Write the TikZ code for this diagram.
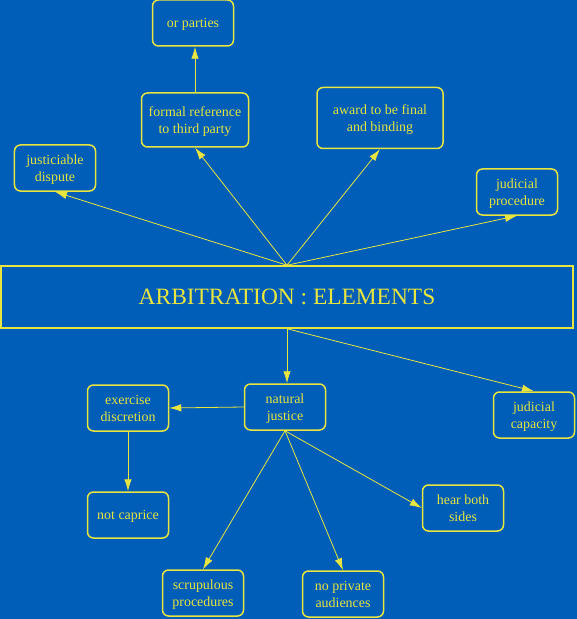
\documentclass[tikz,border=0pt]{standalone}
\usepackage{fontspec}
\setmainfont{Liberation Serif}
\usetikzlibrary{arrows.meta}
\definecolor{bgblue}{RGB}{0,94,184}
\definecolor{ayellow}{RGB}{232,228,64}
\tikzset{
    elem/.style={draw=ayellow, line width=1.5bp, rounded corners=6bp, text=ayellow, align=center,
        minimum width=81bp, minimum height=46bp, inner sep=2bp, text depth=-2.5bp,
        font=\fontsize{14}{17}\selectfont},
    link/.style={ayellow, line width=0.8bp, -{Latex[length=12bp,width=7.5bp]}},
}

\begin{document}
\begin{tikzpicture}[x=1bp, y=-1bp]
    % Sfondo
    \fill[bgblue] (0,0) rectangle (577,619);
    \useasboundingbox (0,0) rectangle (577,619);

    % Titolo
    \node[draw=ayellow, line width=1.5bp, text=ayellow, minimum width=572bp, minimum height=62bp,
        font=\fontsize{23.5}{28}\selectfont] (arb) at (287,297) {ARBITRATION : ELEMENTS};

    % Elementi sopra
    \node[elem] (dispute) at (55,168) {justiciable\\dispute};
    \node[elem, minimum width=107bp, minimum height=54bp] (third) at (195,120) {formal reference\\to third party};
    \node[elem] (parties) at (193,23) {or parties};
    \node[elem, minimum width=126bp, minimum height=61bp] (award) at (380,118) {award to be final\\and binding};
    \node[elem] (procedure) at (517,192) {judicial\\procedure};

    % Elementi sotto
    \node[elem] (natural) at (285,407) {natural\\justice};
    \node[elem] (discretion) at (128,408) {exercise\\discretion};
    \node[elem] (capacity) at (534,415) {judicial\\capacity};
    \node[elem] (caprice) at (128,515) {not caprice};
    \node[elem] (scrupulous) at (203,593) {scrupulous\\procedures};
    \node[elem] (private) at (343,594) {no private\\audiences};
    \node[elem] (hear) at (463,508) {hear both\\sides};

    % Frecce verso l'alto
    \foreach \n in {dispute, third, award, procedure} {
        \draw[link] (arb.north) -- (\n.south);
    }
    \draw[link] (third.north) -- (third.north |- parties.south);

    % Frecce verso il basso
    \draw[link] (arb.south) -- (arb.south |- natural.north);
    \draw[link] (arb.south) -- (capacity.north);
    \draw[link] (natural.west) -- (discretion.east);
    \draw[link] (discretion.south) -- (caprice.north);
    \foreach \n in {scrupulous, private} {
        \draw[link] (natural.south) -- (\n.north);
    }
    \draw[link] (natural.south) -- (hear.west);
\end{tikzpicture}
\end{document}
